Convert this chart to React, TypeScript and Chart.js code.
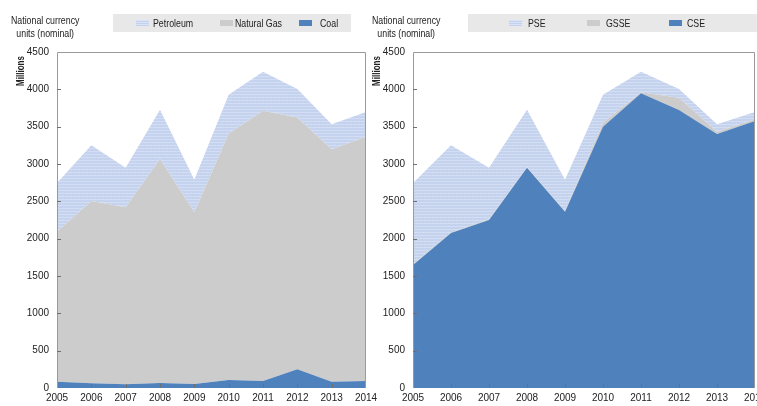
import React, { useEffect, useRef } from "react";
import { Chart, registerables } from "chart.js";
Chart.register(...registerables);

const years = ["2005", "2006", "2007", "2008", "2009", "2010", "2011", "2012", "2013", "2014"];
// Left panel: by energy source (stacked)
const coal = [85, 63, 49, 67, 54, 107, 94, 250, 85, 94];
const naturalGas = [2008, 2441, 2371, 2999, 2299, 3303, 3619, 3374, 3111, 3271];
const petroleum = [652, 746, 530, 661, 437, 518, 523, 381, 337, 331];
// Right panel: by support indicator (stacked)
const cse = [1647, 2075, 2250, 2950, 2361, 3499, 3946, 3722, 3401, 3575];
const gsse = [10, 10, 10, 10, 10, 53, 14, 165, 31, 23];
const pse = [1088, 1165, 690, 767, 419, 376, 276, 118, 101, 98];

const yMin = 0;
const yMax = 4500;
const yStep = 500;

const FONT = '"Liberation Sans", Arial, sans-serif';
const TEXT = "#222";
const BLUE = "#4f81bd";
const GREY = "#cccccc";

function makePattern(): CanvasPattern | string {
  const c = document.createElement("canvas");
  c.width = 4;
  c.height = 3;
  const g = c.getContext("2d");
  if (!g) return "#c8d5ee";
  g.fillStyle = "#c7d4ef";
  g.fillRect(0, 0, 4, 3);
  g.fillStyle = "#d3def3";
  g.fillRect(0, 1, 4, 1);
  g.fillStyle = "#c0ceec";
  g.fillRect(0, 0, 1, 1);
  g.fillRect(2, 2, 1, 1);
  const p = g.createPattern(c, "repeat");
  return p || "#c8d5ee";
}

const framePlugin = {
  id: "frame",
  afterDatasetsDraw(chart: any) {
    const { ctx, chartArea: a, scales } = chart;
    ctx.save();
    ctx.strokeStyle = "#9a9a9a";
    ctx.lineWidth = 1;
    ctx.beginPath();
    ctx.moveTo(Math.round(a.left) + 0.5, Math.round(a.bottom));
    ctx.lineTo(Math.round(a.left) + 0.5, Math.round(a.top) + 0.5);
    ctx.lineTo(Math.round(a.right) - 0.5, Math.round(a.top) + 0.5);
    ctx.lineTo(Math.round(a.right) - 0.5, Math.round(a.bottom));
    ctx.stroke();
    ctx.strokeStyle = "#6f6f6f";
    ctx.beginPath();
    for (let v = yMin + yStep; v < yMax; v += yStep) {
      const y = Math.round(scales.y.getPixelForValue(v)) + 0.5;
      ctx.moveTo(a.left, y);
      ctx.lineTo(a.left + 4, y);
    }
    for (let i = 1; i < years.length - 1; i++) {
      const x = Math.round(scales.x.getPixelForValue(i)) + 0.5;
      ctx.moveTo(x, a.bottom);
      ctx.lineTo(x, a.bottom - 4);
    }
    ctx.stroke();
    ctx.restore();
  },
};

type DS = { label: string; data: number[]; color: any };

function makeConfig(sets: DS[], yWidth: number, rightPad: number) {
  return {
    type: "line" as const,
    data: {
      labels: years,
      datasets: sets.map((s, i) => ({
        label: s.label,
        data: s.data,
        backgroundColor: s.color,
        borderColor: "rgba(0,0,0,0)",
        borderWidth: 0,
        pointRadius: 0,
        tension: 0,
        fill: i === 0 ? "origin" : "-1",
      })),
    },
    options: {
      animation: false as const,
      responsive: false,
      maintainAspectRatio: false,
      layout: { padding: { top: 52, right: rightPad, left: 0, bottom: 0 } },
      plugins: { legend: { display: false }, tooltip: { enabled: false } },
      scales: {
        x: {
          type: "category" as const,
          offset: false,
          grid: { display: false, drawTicks: false },
          border: { display: false },
          ticks: { font: { family: FONT, size: 10 }, color: TEXT, padding: 4, maxRotation: 0, autoSkip: false },
          afterFit(s: any) {
            s.height = 18;
            s.paddingLeft = 0;
            s.paddingRight = 0;
          },
        },
        y: {
          stacked: true,
          min: yMin,
          max: yMax,
          grid: { display: false, drawTicks: false },
          border: { display: false },
          ticks: {
            stepSize: yStep,
            font: { family: FONT, size: 10 },
            color: TEXT,
            padding: 8,
            callback: (v: any) => String(v),
          },
          afterFit(s: any) {
            s.width = yWidth;
            s.paddingTop = 0;
            s.paddingBottom = 0;
          },
        },
      },
    },
    plugins: [framePlugin],
  };
}

const textStyle: React.CSSProperties = {
  position: "absolute",
  fontFamily: FONT,
  fontSize: 11,
  color: TEXT,
  lineHeight: "13px",
  whiteSpace: "nowrap",
};

const narrow: React.CSSProperties = { transform: "scaleX(0.8)", transformOrigin: "left top" };

function Legend({ left, width, items }: { left: number; width: number; items: { label: string; color: string; sx: number; tx: number; pattern?: boolean }[] }) {
  return (
    <div style={{ position: "absolute", left, top: 14, width, height: 18, background: "#e8e8e8" }}>
      {items.map((it) => (
        <React.Fragment key={it.label}>
          <div
            style={{
              position: "absolute",
              left: it.sx - left,
              top: 6,
              width: 13,
              height: 6,
              background: it.pattern
                ? "repeating-linear-gradient(0deg, #c3d1ee 0px, #c3d1ee 1px, #dbe4f6 1px, #dbe4f6 2px)"
                : it.color,
            }}
          />
          <div style={{ ...textStyle, ...narrow, left: it.tx - left, top: 3 }}>{it.label}</div>
        </React.Fragment>
      ))}
    </div>
  );
}

export default function App() {
  const leftRef = useRef<HTMLCanvasElement>(null);
  const rightRef = useRef<HTMLCanvasElement>(null);

  useEffect(() => {
    const pat = makePattern();
    const c1 = new Chart(
      leftRef.current as HTMLCanvasElement,
      makeConfig(
        [
          { label: "Coal", data: coal, color: BLUE },
          { label: "Natural Gas", data: naturalGas, color: GREY },
          { label: "Petroleum", data: petroleum, color: pat },
        ],
        57,
        19
      ) as any
    );
    const c2 = new Chart(
      rightRef.current as HTMLCanvasElement,
      makeConfig(
        [
          { label: "CSE", data: cse, color: BLUE },
          { label: "GSSE", data: gsse, color: GREY },
          { label: "PSE", data: pse, color: pat },
        ],
        38,
        35
      ) as any
    );
    return () => {
      c1.destroy();
      c2.destroy();
    };
  }, []);

  const title = (left: number) => (
    <div style={{ position: "absolute", left, top: 14, width: 90, height: 28 }}>
      <div style={{ ...textStyle, ...narrow, left: 0, top: 0, width: 88, textAlign: "center" }}>
        National currency
        <br />
        units (nominal)
      </div>
    </div>
  );

  const millions = (cx: number) => (
    <div
      style={{
        ...textStyle,
        fontSize: 10,
        fontWeight: "bold",
        left: cx,
        top: 71,
        transform: "translate(-50%, -50%) rotate(-90deg) scaleX(0.8)",
      }}
    >
      Millions
    </div>
  );

  return (
    <div style={{ position: "fixed", left: 0, top: 0, width: 757, height: 406, overflow: "hidden", background: "#fff" }}>
      <canvas ref={leftRef} width={385} height={406} style={{ position: "absolute", left: 0, top: 0, width: 385, height: 406 }} />
      <canvas ref={rightRef} width={415} height={406} style={{ position: "absolute", left: 375, top: 0, width: 415, height: 406 }} />

      {title(10)}
      {title(371)}
      {millions(20)}
      {millions(376)}

      <Legend
        left={113}
        width={238}
        items={[
          { label: "Petroleum", color: "#c8d5ee", sx: 136, tx: 153, pattern: true },
          { label: "Natural Gas", color: GREY, sx: 220, tx: 235 },
          { label: "Coal", color: BLUE, sx: 299, tx: 320 },
        ]}
      />
      <Legend
        left={468}
        width={300}
        items={[
          { label: "PSE", color: "#c8d5ee", sx: 509, tx: 528, pattern: true },
          { label: "GSSE", color: GREY, sx: 587, tx: 606 },
          { label: "CSE", color: BLUE, sx: 669, tx: 687 },
        ]}
      />
    </div>
  );
}
